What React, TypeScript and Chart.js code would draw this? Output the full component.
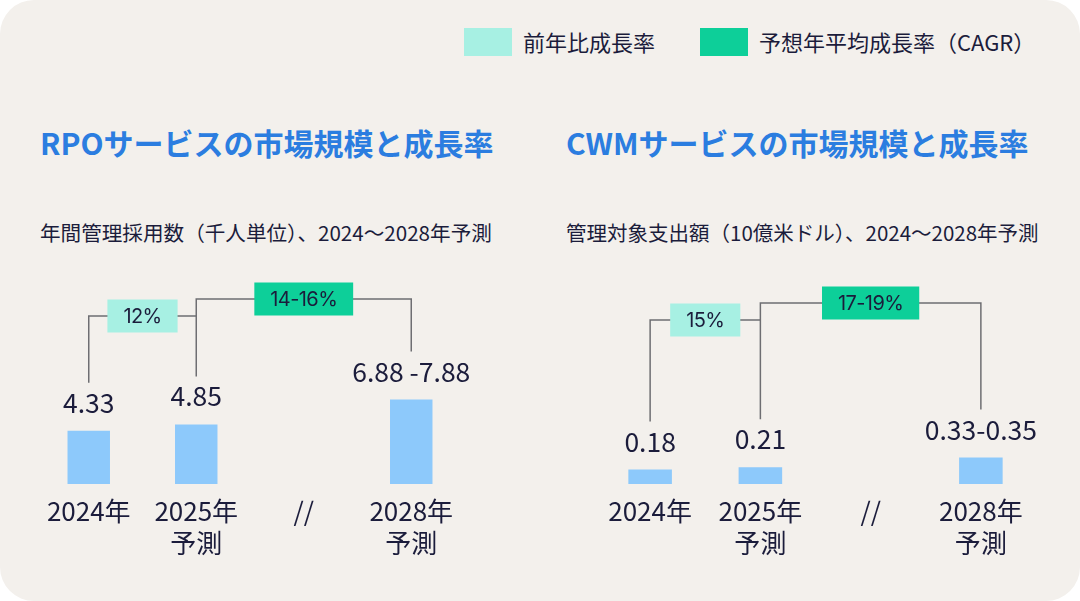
import React, { useEffect, useRef } from 'react';
import { Chart, registerables } from 'chart.js';

Chart.register(...registerables);

// ---------- data ----------
const categories: string[][] = [['2024年'], ['2025年', '予測'], ['//'], ['2028年', '予測']];

const rpoTitle = 'RPOサービスの市場規模と成長率';
const rpoSubtitle = '年間管理採用数（千人単位）、2024～2028年予測';
const rpoValues: (number | null)[] = [4.33, 4.85, null, 6.88];
const rpoValueLabels = ['4.33', '4.85', '', '6.88 -7.88'];
const rpoYoY = '12%';
const rpoCagr = '14-16%';

const cwmTitle = 'CWMサービスの市場規模と成長率';
const cwmSubtitle = '管理対象支出額（10億米ドル）、2024～2028年予測';
const cwmValues: (number | null)[] = [0.18, 0.21, null, 0.33];
const cwmValueLabels = ['0.18', '0.21', '', '0.33-0.35'];
const cwmYoY = '15%';
const cwmCagr = '17-19%';

const legendLabels = ['前年比成長率', '予想年平均成長率（CAGR）'];

// ---------- styles ----------
const FONT_JP = '"Noto Sans CJK JP", "Noto Sans", sans-serif';
const FONT_PCT = 'Inter, "Noto Sans", sans-serif';
const BG = '#f3f0ec';
const TEXT = '#1b1c3b';
const BLUE = '#2b7de0';
const BAR = '#8dc9fb';
const AQUA = '#a7f0e3';
const GREEN = '#0dcf99';
const LINE = '#6e6e72';

function drawBox(ctx: CanvasRenderingContext2D, cx: number, cy: number, text: string, color: string) {
  ctx.save();
  ctx.font = `400 20px ${FONT_PCT}`;
  try { (ctx as any).letterSpacing = '-0.6px'; } catch (e) { /* ignore */ }
  const w = ctx.measureText(text).width + 32;
  const h = 33;
  ctx.fillStyle = color;
  ctx.fillRect(cx - w / 2, cy - h / 2, w, h);
  ctx.fillStyle = TEXT;
  ctx.textAlign = 'center';
  ctx.textBaseline = 'middle';
  ctx.fillText(text, cx, cy + 1);
  ctx.restore();
}

const valueLabelPlugin = {
  id: 'valueLabels',
  afterDatasetsDraw(chart: any, _args: any, opts: any) {
    const { ctx } = chart;
    const meta = chart.getDatasetMeta(0);
    const labels: string[] = opts.labels || [];
    ctx.save();
    ctx.font = `400 26.5px ${FONT_JP}`;
    ctx.fillStyle = TEXT;
    ctx.textAlign = 'center';
    ctx.textBaseline = 'middle';
    meta.data.forEach((el: any, i: number) => {
      const v = chart.data.datasets[0].data[i];
      if (v == null || !labels[i]) return;
      ctx.fillText(labels[i], el.x, el.y - opts.gap);
    });
    ctx.restore();
  },
};

const bracketPlugin = {
  id: 'growthBrackets',
  afterDatasetsDraw(chart: any, _args: any, opts: any) {
    const { ctx, chartArea } = chart;
    const meta = chart.getDatasetMeta(0);
    const xs = meta.data.map((el: any) => el.x);
    const tops = meta.data.map((el: any) => el.y);
    const cagrY = chartArea.top + opts.cagrOffset;
    const yoyY = cagrY + opts.yoyGap;
    const bottom = (i: number) => tops[i] - opts.labelGap - 20;
    ctx.save();
    ctx.strokeStyle = LINE;
    ctx.lineWidth = 1.5;
    ctx.beginPath();
    ctx.moveTo(xs[0], bottom(0));
    ctx.lineTo(xs[0], yoyY);
    ctx.lineTo(xs[1], yoyY);
    ctx.moveTo(xs[1], bottom(1));
    ctx.lineTo(xs[1], cagrY);
    ctx.lineTo(xs[3], cagrY);
    ctx.lineTo(xs[3], bottom(3));
    ctx.stroke();
    drawBox(ctx, (xs[0] + xs[1]) / 2, yoyY, opts.yoy, AQUA);
    drawBox(ctx, (xs[1] + xs[3]) / 2, cagrY, opts.cagr, GREEN);
    ctx.restore();
  },
};

type ChartProps = {
  left: number;
  values: (number | null)[];
  valueLabels: string[];
  yoy: string;
  cagr: string;
  yMax: number;
  padLeft: number;
  padRight: number;
  cagrOffset: number;
};

function MarketChart(p: ChartProps) {
  const ref = useRef<HTMLCanvasElement | null>(null);
  useEffect(() => {
    if (!ref.current) return;
    const chart = new Chart(ref.current, {
      type: 'bar',
      data: {
        labels: categories as any,
        datasets: [
          {
            data: p.values as any,
            backgroundColor: BAR,
            borderWidth: 0,
            categoryPercentage: 1,
            barPercentage: 0.395,
          },
        ],
      },
      options: {
        responsive: false,
        animation: false,
        events: [],
        layout: { padding: { left: p.padLeft, right: p.padRight, top: 20, bottom: 2 } },
        scales: {
          x: {
            grid: { display: false, drawTicks: false },
            border: { display: false },
            ticks: {
              color: TEXT,
              padding: 11,
              autoSkip: false,
              maxRotation: 0,
              font: { family: FONT_JP, size: 26, lineHeight: 1.23 },
            },
          },
          y: { display: false, min: 0, max: p.yMax },
        },
        plugins: {
          legend: { display: false },
          tooltip: { enabled: false },
          valueLabels: { labels: p.valueLabels, gap: 28 },
          growthBrackets: {
            yoy: p.yoy,
            cagr: p.cagr,
            cagrOffset: p.cagrOffset,
            yoyGap: 17,
            labelGap: 28,
          },
        } as any,
      },
      plugins: [valueLabelPlugin, bracketPlugin],
    });
    return () => chart.destroy();
  }, []);
  return (
    <canvas
      ref={ref}
      width={540}
      height={312}
      style={{ position: 'absolute', left: p.left, top: 260, width: 540, height: 312 }}
    />
  );
}

function Text(props: { x: number; cy: number; size: number; weight?: number; color: string; children: React.ReactNode }) {
  return (
    <div
      style={{
        position: 'absolute',
        left: props.x,
        top: props.cy - props.size * 0.55,
        fontFamily: FONT_JP,
        fontSize: props.size,
        fontWeight: props.weight || 400,
        lineHeight: `${props.size}px`,
        color: props.color,
        whiteSpace: 'nowrap',
      }}
    >
      {props.children}
    </div>
  );
}

export default function App() {
  useEffect(() => {
    document.body.style.margin = '0';
  }, []);
  return (
    <div style={{ position: 'relative', width: 1080, height: 601, background: '#ffffff', overflow: 'hidden' }}>
      <div style={{ position: 'absolute', left: 0, top: 0, width: 1080, height: 601, background: BG, borderRadius: 34 }} />
      {/* legend */}
      <div style={{ position: 'absolute', left: 464, top: 28, width: 48, height: 28, background: AQUA }} />
      <Text x={523} cy={42} size={22} color={TEXT}>{legendLabels[0]}</Text>
      <div style={{ position: 'absolute', left: 700, top: 28, width: 48, height: 28, background: GREEN }} />
      <Text x={759} cy={42} size={22} color={TEXT}>{legendLabels[1]}</Text>
      {/* titles */}
      <Text x={40} cy={143} size={30} weight={700} color={BLUE}>{rpoTitle}</Text>
      <Text x={40} cy={233} size={20.6} color={TEXT}>{rpoSubtitle}</Text>
      <Text x={566} cy={143} size={30} weight={700} color={BLUE}>{cwmTitle}</Text>
      <Text x={566} cy={233} size={20.5} color={TEXT}>{cwmSubtitle}</Text>
      <MarketChart
        left={0}
        values={rpoValues}
        valueLabels={rpoValueLabels}
        yoy={rpoYoY}
        cagr={rpoCagr}
        yMax={16.6}
        padLeft={35}
        padRight={75}
        cagrOffset={19}
      />
      <MarketChart
        left={540}
        values={cwmValues}
        valueLabels={cwmValueLabels}
        yoy={cwmYoY}
        cagr={cwmCagr}
        yMax={2.54}
        padLeft={55}
        padRight={44}
        cagrOffset={23}
      />
    </div>
  );
}
